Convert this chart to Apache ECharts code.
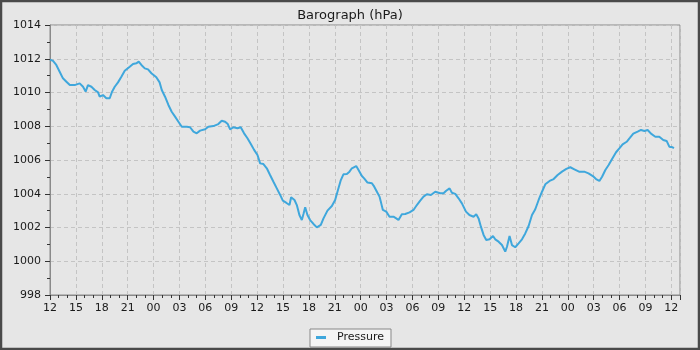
<!DOCTYPE html>
<html>
<head>
<meta charset="utf-8">
<script src="https://cdn.jsdelivr.net/npm/echarts@6/dist/echarts.min.js"></script>
<style>
html,body{margin:0;padding:0;background:#e6e6e6;}
#chart{width:700px;height:350px;}
</style>
</head>
<body>
<div id="chart"></div>
<script>
// Hours since the first tick (12:00)
const hours = [0,0.35,0.73,1.12,1.5,1.9,2.3,2.86,3.44,3.83,4.13,4.4,4.8,5.18,5.57,5.76,6.14,6.53,6.92,7.19,7.5,7.88,8.27,8.66,9.24,9.62,10.0,10.28,10.59,10.98,11.36,11.75,12.32,12.7,12.95,13.33,13.72,14.1,14.49,14.88,15.27,15.85,16.23,16.62,17.0,17.39,17.97,18.35,18.93,19.5,19.9,20.29,20.6,20.87,21.25,21.72,22.1,22.49,22.88,23.27,23.65,24.04,24.35,24.73,25.12,25.5,25.89,26.28,26.67,26.98,27.36,27.75,27.94,28.33,28.6,28.9,29.18,29.37,29.57,29.83,30.14,30.53,30.92,31.1,31.38,31.69,32.15,32.66,33.04,33.31,33.7,34.0,34.4,34.7,34.98,35.48,35.75,36.14,36.4,36.79,37.3,37.57,37.88,38.18,38.38,38.57,38.96,39.34,39.8,40.12,40.38,40.77,41.16,41.66,42.12,42.51,42.9,43.28,43.67,44.14,44.64,45.22,45.6,45.91,46.3,46.57,46.96,47.34,47.73,48.2,48.6,49.08,49.39,49.66,49.93,50.24,50.55,50.93,51.33,51.59,51.98,52.37,52.75,52.95,53.25,53.53,53.91,54.3,54.69,55.07,55.46,55.85,56.23,56.62,57.01,57.39,57.89,58.36,58.82,59.33,59.83,60.29,60.76,61.3,61.9,62.4,62.9,63.27,63.66,63.97,64.35,64.73,65.13,65.59,65.97,66.35,66.82,67.21,67.59,68.09,68.48,68.87,69.25,69.64,70.14,70.6,71.06,71.45,71.76,72.14,72.3];
const pressure = [1011.95,1011.87,1011.63,1011.23,1010.84,1010.64,1010.44,1010.44,1010.54,1010.34,1010.05,1010.44,1010.34,1010.15,1010.01,1009.75,1009.85,1009.66,1009.66,1010.05,1010.34,1010.6,1010.94,1011.29,1011.53,1011.69,1011.73,1011.83,1011.63,1011.43,1011.37,1011.14,1010.9,1010.6,1010.15,1009.75,1009.26,1008.86,1008.57,1008.27,1007.97,1007.97,1007.94,1007.68,1007.58,1007.74,1007.82,1007.97,1008.01,1008.13,1008.33,1008.27,1008.13,1007.82,1007.94,1007.88,1007.94,1007.58,1007.29,1006.95,1006.6,1006.3,1005.8,1005.76,1005.51,1005.11,1004.71,1004.32,1003.93,1003.59,1003.47,1003.33,1003.79,1003.63,1003.33,1002.74,1002.44,1002.8,1003.2,1002.74,1002.44,1002.21,1002.01,1001.95,1002.15,1002.54,1003.0,1003.27,1003.63,1004.12,1004.81,1005.15,1005.17,1005.31,1005.51,1005.64,1005.41,1005.05,1004.91,1004.66,1004.62,1004.42,1004.12,1003.83,1003.43,1003.04,1002.94,1002.64,1002.64,1002.54,1002.44,1002.78,1002.8,1002.9,1003.04,1003.33,1003.59,1003.83,1003.97,1003.93,1004.12,1004.03,1004.03,1004.18,1004.32,1004.06,1003.99,1003.73,1003.43,1002.94,1002.74,1002.64,1002.78,1002.54,1002.05,1001.56,1001.26,1001.3,1001.5,1001.3,1001.16,1000.96,1000.57,1000.86,1001.5,1000.96,1000.83,1001.06,1001.3,1001.65,1002.09,1002.74,1003.08,1003.63,1004.12,1004.56,1004.76,1004.87,1005.11,1005.31,1005.47,1005.57,1005.45,1005.31,1005.31,1005.21,1005.05,1004.87,1004.76,1005.01,1005.41,1005.7,1006.06,1006.46,1006.69,1006.93,1007.08,1007.32,1007.56,1007.68,1007.78,1007.72,1007.78,1007.56,1007.38,1007.38,1007.19,1007.13,1006.79,1006.75,1006.7];
const tickLabels = ['12','15','18','21','00','03','06','09','12','15','18','21','00','03','06','09','12','15','18','21','00','03','06','09','12'];

const chart = echarts.init(document.getElementById('chart'), null, {renderer:'canvas'});
const font = 'DejaVu Sans';
chart.setOption({
  backgroundColor: '#e6e6e6',
  animation: false,
  title: {
    text: 'Barograph (hPa)', left: 'center', top: 4,
    textStyle: {fontFamily: font, fontSize: 13, fontWeight: 'normal', color: '#1a1a1a'}
  },
  legend: {
    data: ['Pressure'], left: 'center', top: 329,
    backgroundColor: '#f4f4f4', borderColor: '#888', borderWidth: 1, borderRadius: 0,
    padding: [3, 7, 4, 6], itemWidth: 10, itemHeight: 3, icon: 'rect',
    textStyle: {fontFamily: font, fontSize: 11, color: '#1a1a1a', padding: [0,0,0,6]}
  },
  grid: {left: 50, right: 20, top: 25, bottom: 55, show: true, borderColor: '#8a8a8a', borderWidth: 1, backgroundColor: 'transparent'},
  xAxis: {
    type: 'value', min: 0, max: 73, interval: 3,
    axisLine: {show: true, lineStyle: {color: '#8a8a8a'}},
    axisTick: {show: true, length: 5, lineStyle: {color: '#333'}},
    minorTick: {show: true, splitNumber: 3, length: 3, lineStyle: {color: '#333'}},
    axisLabel: {fontFamily: font, fontSize: 11, color: '#1a1a1a', margin: 8, showMaxLabel: false,
      formatter: v => tickLabels[Math.round(v/3)] || ''},
    splitLine: {show: true, lineStyle: {color: '#c4c4c4', type: [4,3], width: 1}}
  },
  yAxis: {
    type: 'value', min: 998, max: 1014, interval: 2,
    axisLine: {show: true, lineStyle: {color: '#8a8a8a'}},
    axisTick: {show: true, length: 5, lineStyle: {color: '#333'}},
    minorTick: {show: true, splitNumber: 2, length: 3, lineStyle: {color: '#333'}},
    axisLabel: {fontFamily: font, fontSize: 11, color: '#1a1a1a', margin: 9, formatter: v => String(v)},
    splitLine: {show: true, lineStyle: {color: '#c4c4c4', type: [4,3], width: 1}}
  },
  graphic: [{
    type: 'rect', silent: true, z: 100,
    shape: {x: 1, y: 1, width: 698, height: 348},
    style: {fill: 'none', stroke: '#4a4a4a', lineWidth: 2.5}
  }],
  series: [{
    name: 'Pressure', type: 'line', showSymbol: false, symbol: 'none',
    data: hours.map((h, i) => [h, pressure[i]]),
    lineStyle: {color: '#3fa7dc', width: 2},
    itemStyle: {color: '#3fa7dc'}
  }]
});
</script>
</body>
</html>
